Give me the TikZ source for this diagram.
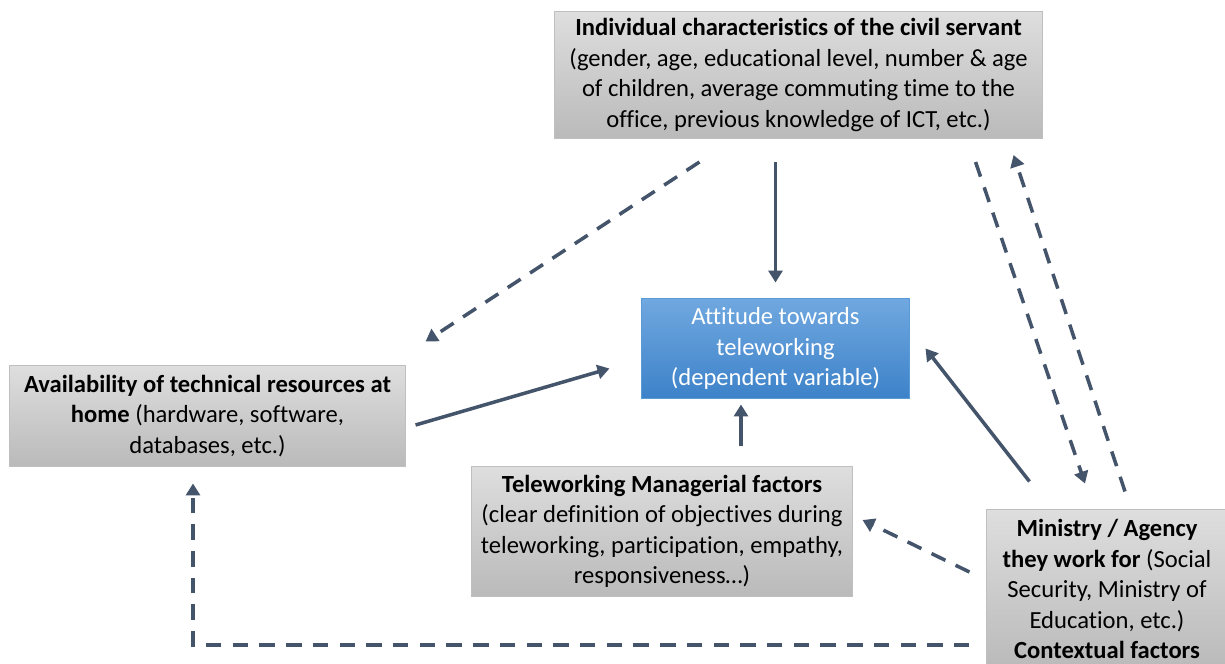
\documentclass[tikz,border=0pt]{standalone}
\usepackage{fontspec}
\setmainfont{Carlito}[Ligatures=NoCommon, Contextuals=NoAlternate]
\usetikzlibrary{arrows.meta, positioning, calc}
\definecolor{boxtop}{HTML}{DEDEDE}
\definecolor{boxbot}{HTML}{BABABA}
\definecolor{boxline}{HTML}{BFBFBF}
\definecolor{bluetop}{HTML}{70A8E0}
\definecolor{bluebot}{HTML}{3D82C9}
\definecolor{blueline}{HTML}{5B9BD5}
\definecolor{linkc}{HTML}{44546A}

\tikzset{
  factor/.style={draw=boxline, line width=0.7pt, top color=boxtop, bottom color=boxbot,
    align=center, inner sep=0pt, font=\fontsize{17.5}{21.7}\selectfont},
  target/.style={factor, draw=blueline, top color=bluetop, bottom color=bluebot, text=white},
  link/.style={draw=linkc, line width=2.5pt, -{Triangle[length=8.5pt,width=10pt]}},
  dlink/.style={link, dash pattern=on 11pt off 8pt},
}

\begin{document}
\begin{tikzpicture}[x=0.025cm, y=-0.025cm]
    \fill[white] (0,0) rectangle (1225,664);
    \useasboundingbox (0,0) rectangle (1225,664);

    % Boxes
    \node[factor, minimum width=12.175cm, minimum height=3.175cm] (indiv) at (798.5,75)
        {\textbf{Individual characteristics of the civil servant}\\(gender, age, educational level, number \& age\\of children, average commuting time to the\\office, previous knowledge of ICT, etc.)};
    \node[target, minimum width=6.675cm, minimum height=2.475cm] (att) at (775.5,348.5)
        {Attitude towards\\teleworking\\(dependent variable)};
    \node[factor, minimum width=9.875cm, minimum height=2.5cm] (avail) at (207.5,416)
        {\textbf{Availability of technical resources at}\\\textbf{home} (hardware, software,\\databases, etc.)};
    \node[factor, minimum width=9.5cm, minimum height=3.225cm] (manag) at (662,531.5)
        {\textbf{Teleworking Managerial factors}\\(clear definition of objectives during\\teleworking, participation, empathy,\\responsiveness…)};
    \node[factor, minimum width=6cm, minimum height=3.95cm] (minis) at (1107,589)
        {\textbf{Ministry / Agency}\\\textbf{they work for} (Social\\Security, Ministry of\\Education, etc.)\\\textbf{Contextual factors}};

    % Solid links into the attitude box
    \draw[link] ($(indiv.south -| att.north)+(0,23)$) -- ($(att.north)+(0,-16)$);
    \draw[link] ($(avail.east)+(10,9)$) -- ($(att.west)+(-32,20)$);
    \draw[link] ($(manag.north)+(79,-20)$) -- ($(att.south)+(-34.5,6)$);
    \draw[link] ($(minis.north west)+(43,-28)$) -- ($(att.east)+(16,0)$);

    % Dashed links
    \draw[dlink] ($(indiv.south west)+(145,23)$) -- ($(avail.north east)+(20,-24)$);
    \draw[dlink] ($(indiv.south east)+(-67,23)$) -- ($(minis.north)+(-22,-26)$);
    \draw[dlink] ($(minis.north)+(18,-18)$) -- ($(indiv.south east)+(-29,16)$);
    \draw[dlink] ($(minis.west)+(-17,-17)$) -- ($(manag.east)+(10,-11.5)$);
    \draw[dlink] ($(minis.west)+(-17,56)$) -| ($(avail.south)+(-14.5,17)$);
\end{tikzpicture}
\end{document}
